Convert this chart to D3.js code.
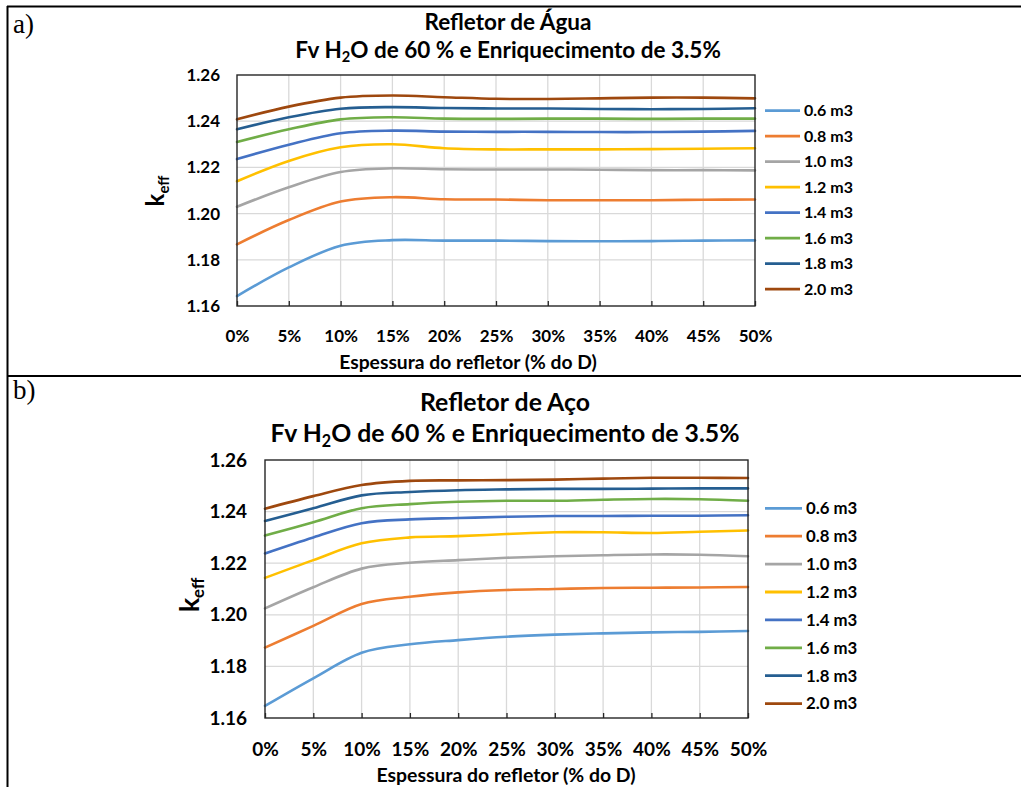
<!DOCTYPE html>
<html>
<head>
<meta charset="utf-8">
<script src="https://cdn.jsdelivr.net/npm/d3@7"></script>
<style>
  body { margin: 0; background: #fff; }
  svg { display: block; }
</style>
</head>
<body>
<svg id="page" width="1021" height="787"></svg>
<script>
// reflector thickness, % of D
const thickness = [0, 5, 10, 15, 20, 25, 30, 35, 40, 45, 50];
const volumes = ['0.6 m3', '0.8 m3', '1.0 m3', '1.2 m3', '1.4 m3', '1.6 m3', '1.8 m3', '2.0 m3'];
const lineColors = ['#5B9BD5', '#ED7D31', '#A5A5A5', '#FFC000', '#4472C4', '#70AD47', '#255E91', '#9E480E'];
const yTicks = [1.16, 1.18, 1.20, 1.22, 1.24, 1.26];

// a) water reflector, one row per core volume
const keffAgua = [
  [1.1643, 1.1767, 1.1861, 1.1885, 1.1883, 1.1883, 1.1881, 1.1880, 1.1881, 1.1883, 1.1884],
  [1.1867, 1.1972, 1.2052, 1.2071, 1.2062, 1.2061, 1.2058, 1.2058, 1.2058, 1.2060, 1.2061],
  [1.2030, 1.2114, 1.2180, 1.2196, 1.2192, 1.2191, 1.2191, 1.2190, 1.2188, 1.2188, 1.2187],
  [1.2140, 1.2228, 1.2287, 1.2300, 1.2283, 1.2278, 1.2278, 1.2278, 1.2279, 1.2281, 1.2283],
  [1.2236, 1.2298, 1.2348, 1.2359, 1.2355, 1.2354, 1.2354, 1.2353, 1.2353, 1.2355, 1.2358],
  [1.2310, 1.2365, 1.2408, 1.2417, 1.2411, 1.2410, 1.2411, 1.2411, 1.2410, 1.2411, 1.2411],
  [1.2365, 1.2417, 1.2454, 1.2461, 1.2457, 1.2455, 1.2455, 1.2453, 1.2452, 1.2453, 1.2456],
  [1.2408, 1.2463, 1.2502, 1.2511, 1.2504, 1.2497, 1.2496, 1.2499, 1.2502, 1.2502, 1.2499],
];

// b) steel reflector
const keffAco = [
  [1.1647, 1.1754, 1.1853, 1.1886, 1.1902, 1.1915, 1.1923, 1.1928, 1.1932, 1.1934, 1.1937],
  [1.1873, 1.1957, 1.2042, 1.2070, 1.2087, 1.2096, 1.2100, 1.2104, 1.2105, 1.2106, 1.2108],
  [1.2025, 1.2107, 1.2179, 1.2202, 1.2212, 1.2221, 1.2227, 1.2231, 1.2234, 1.2233, 1.2227],
  [1.2143, 1.2212, 1.2277, 1.2300, 1.2305, 1.2313, 1.2320, 1.2320, 1.2317, 1.2322, 1.2327],
  [1.2238, 1.2300, 1.2355, 1.2370, 1.2375, 1.2380, 1.2383, 1.2383, 1.2384, 1.2384, 1.2386],
  [1.2307, 1.2359, 1.2413, 1.2429, 1.2438, 1.2442, 1.2442, 1.2446, 1.2449, 1.2448, 1.2442],
  [1.2364, 1.2413, 1.2463, 1.2476, 1.2483, 1.2486, 1.2488, 1.2488, 1.2489, 1.2490, 1.2490],
  [1.2411, 1.2460, 1.2503, 1.2519, 1.2521, 1.2522, 1.2524, 1.2528, 1.2531, 1.2531, 1.2530],
];

const FONT = 'Lato, "DejaVu Sans", sans-serif';
const svg = d3.select('#page');

// table frame of the document
svg.append('line').attr('x1', 7).attr('x2', 1021).attr('y1', 6.5).attr('y2', 6.5)
  .attr('stroke', '#000').attr('stroke-width', 2);
svg.append('line').attr('x1', 7.5).attr('x2', 7.5).attr('y1', 6).attr('y2', 787)
  .attr('stroke', '#000').attr('stroke-width', 2);
svg.append('line').attr('x1', 7).attr('x2', 1021).attr('y1', 376).attr('y2', 376)
  .attr('stroke', '#000').attr('stroke-width', 2);

svg.selectAll('text.cell')
  .data([{ t: 'a)', y: 33 }, { t: 'b)', y: 399 }])
  .join('text')
  .attr('class', 'cell')
  .attr('x', 13)
  .attr('y', (d) => d.y)
  .attr('font-family', '"Liberation Serif", serif')
  .attr('font-size', 27)
  .text((d) => d.t);

function drawPanel(p, values) {
  const g = svg.append('g').attr('font-family', FONT).attr('font-weight', 'bold');

  const x = d3.scaleLinear().domain([0, 50]).range([p.left, p.right]);
  const y = d3.scaleLinear().domain([1.16, 1.26]).range([p.bottom, p.top]);

  // titles
  g.append('text')
    .attr('x', p.titleX).attr('y', p.titleY)
    .attr('text-anchor', 'middle')
    .attr('font-size', p.titleSize)
    .text(p.title);

  const sub = g.append('text')
    .attr('x', p.titleX).attr('y', p.subY)
    .attr('text-anchor', 'middle')
    .attr('font-size', p.titleSize);
  sub.append('tspan').text('Fv H');
  sub.append('tspan').attr('font-size', p.titleSize * 0.65).attr('dy', p.titleSize * 0.22).text('2');
  sub.append('tspan').attr('dy', -p.titleSize * 0.22).text('O de 60 % e Enriquecimento de 3.5%');

  // gridlines
  g.append('g').selectAll('line')
    .data(yTicks.slice(1, -1))
    .join('line')
    .attr('x1', p.left).attr('x2', p.right)
    .attr('y1', (d) => y(d)).attr('y2', (d) => y(d))
    .attr('stroke', '#D9D9D9').attr('stroke-width', 1.3);

  g.append('g').selectAll('line')
    .data(thickness.slice(1, -1))
    .join('line')
    .attr('y1', p.top).attr('y2', p.bottom)
    .attr('x1', (d) => x(d)).attr('x2', (d) => x(d))
    .attr('stroke', '#D9D9D9').attr('stroke-width', 1.3);

  // series (Excel smoothed lines)
  const line = d3.line()
    .x((d, i) => x(thickness[i]))
    .y((d) => y(d))
    .curve(d3.curveCatmullRom.alpha(0));

  g.append('g').selectAll('path')
    .data(values)
    .join('path')
    .attr('d', line)
    .attr('fill', 'none')
    .attr('stroke', (d, i) => lineColors[i])
    .attr('stroke-width', 2.6)
    .attr('stroke-linecap', 'round');

  // plot border
  g.append('rect')
    .attr('x', p.left).attr('y', p.top)
    .attr('width', p.right - p.left).attr('height', p.bottom - p.top)
    .attr('fill', 'none').attr('stroke', '#262626').attr('stroke-width', 1.4);

  // axes
  const xAxis = g.append('g')
    .attr('transform', `translate(0,${p.bottom})`)
    .call(d3.axisBottom(x)
      .tickValues(thickness)
      .tickSizeInner(-5)
      .tickSizeOuter(0)
      .tickPadding(p.xTickBase - p.bottom - 0.71 * p.tickSize)
      .tickFormat((d) => `${d}%`));
  xAxis.select('.domain').remove();
  xAxis.selectAll('line').attr('stroke', '#262626').attr('stroke-width', 1.3);
  xAxis.selectAll('text')
    .attr('font-family', FONT).attr('font-weight', 'bold')
    .attr('font-size', p.tickSize).attr('fill', '#000');

  const yAxis = g.append('g')
    .attr('transform', `translate(${p.left},0)`)
    .call(d3.axisLeft(y)
      .tickValues(yTicks)
      .tickSize(0)
      .tickPadding(p.left - p.yTickRight)
      .tickFormat(d3.format('.2f')));
  yAxis.select('.domain').remove();
  yAxis.selectAll('text')
    .attr('font-family', FONT).attr('font-weight', 'bold')
    .attr('font-size', p.tickSize).attr('fill', '#000');

  // axis titles
  g.append('text')
    .attr('x', p.xTitleX).attr('y', p.xTitleY)
    .attr('text-anchor', 'middle')
    .attr('font-size', p.xTitleSize)
    .text('Espessura do refletor (% do D)');

  const k = g.append('text')
    .attr('transform', `translate(${p.kX},${p.kY}) rotate(-90)`)
    .attr('text-anchor', 'middle')
    .attr('font-size', p.kSize);
  k.append('tspan').text('k');
  k.append('tspan').attr('font-size', p.kSize * 0.62).attr('dy', p.kSize * 0.2).text('eff');

  // legend
  const item = g.append('g').selectAll('g')
    .data(volumes)
    .join('g')
    .attr('transform', (d, i) => `translate(${p.legendX},${p.legendY + i * p.legendStep})`);
  item.append('line')
    .attr('x1', 0).attr('x2', p.legendLine)
    .attr('stroke', (d, i) => lineColors[i])
    .attr('stroke-width', 2.8);
  item.append('text')
    .attr('x', p.legendLine + 4)
    .attr('dy', '0.35em')
    .attr('font-size', p.legendSize)
    .text((d) => d);
}

drawPanel({
  title: 'Refletor de Água', titleX: 508, titleY: 30, subY: 57.5, titleSize: 22.5,
  left: 237, right: 755, top: 75, bottom: 306,
  tickSize: 17, yTickRight: 220, xTickBase: 342,
  xTitleX: 468, xTitleY: 369, xTitleSize: 19.3,
  kX: 164, kY: 191, kSize: 24,
  legendX: 765, legendY: 110.7, legendStep: 25.5, legendLine: 35, legendSize: 16,
}, keffAgua);

drawPanel({
  title: 'Refletor de Aço', titleX: 505, titleY: 411, subY: 442, titleSize: 24.8,
  left: 265, right: 748, top: 460, bottom: 718,
  tickSize: 19, yTickRight: 247, xTickBase: 756,
  xTitleX: 506, xTitleY: 782, xTitleSize: 19.4,
  kX: 199, kY: 595, kSize: 27,
  legendX: 765, legendY: 508.3, legendStep: 27.9, legendLine: 37, legendSize: 16.8,
}, keffAco);
</script>
</body>
</html>
